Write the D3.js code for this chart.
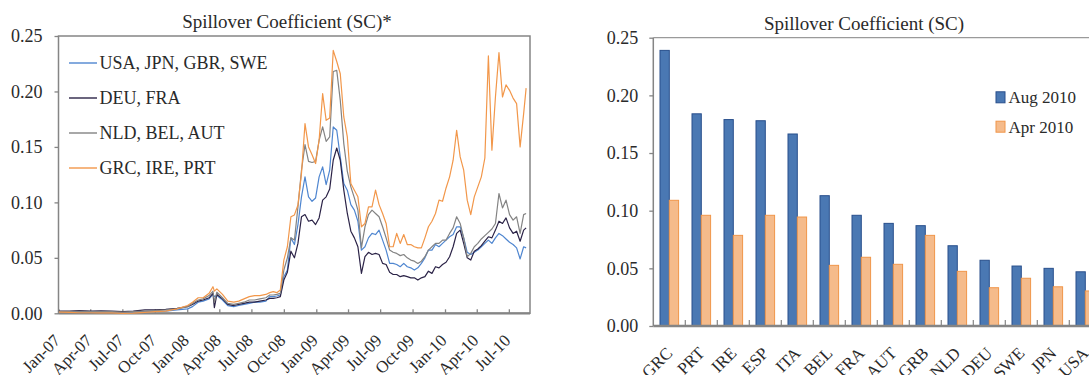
<!DOCTYPE html>
<html><head><meta charset="utf-8">
<script src="https://cdn.jsdelivr.net/npm/d3@7"></script>
<style>
html,body{margin:0;padding:0;background:#fff;}
svg{display:block;font-family:"Liberation Serif","Times New Roman",serif;}
</style></head><body>
<svg id="chart" width="1089" height="375"></svg>
<script>
// ---------- Left panel data ----------
const lineDates = [
"2007-01-02","2007-02-01","2007-03-01","2007-04-02","2007-05-01","2007-06-01","2007-07-02","2007-08-01","2007-09-03","2007-10-01","2007-11-01","2007-12-03",
"2008-01-02","2008-01-16","2008-02-01","2008-02-15","2008-03-03","2008-03-14","2008-03-18","2008-03-25","2008-04-10","2008-04-25","2008-05-12","2008-05-26","2008-06-10","2008-06-25","2008-07-10","2008-07-25","2008-08-11",
"2008-08-22","2008-09-01","2008-09-11","2008-09-21","2008-10-01","2008-10-11","2008-10-21","2008-10-31","2008-11-10","2008-11-20",
"2008-11-30","2008-12-10","2008-12-20","2008-12-30","2009-01-09","2009-01-19","2009-01-29","2009-02-08","2009-02-18","2009-02-28",
"2009-03-10","2009-03-20","2009-03-30","2009-04-09","2009-04-19","2009-04-29","2009-05-09","2009-05-19","2009-05-29","2009-06-08",
"2009-06-18","2009-06-28","2009-07-08","2009-07-18","2009-07-28","2009-08-07","2009-08-17","2009-08-27","2009-09-06","2009-09-16",
"2009-09-26","2009-10-06","2009-10-16","2009-10-26","2009-11-05","2009-11-15","2009-11-25","2009-12-05","2009-12-15","2009-12-25",
"2010-01-04","2010-01-14","2010-01-24","2010-02-03","2010-02-13","2010-02-23","2010-03-05","2010-03-15","2010-03-25","2010-04-04",
"2010-04-14","2010-04-24","2010-05-04","2010-05-14","2010-05-24","2010-06-03","2010-06-13","2010-06-23","2010-07-03","2010-07-13",
"2010-07-23","2010-08-02","2010-08-12","2010-08-19"
];
const usaJpnGbrSwe = [
0.001,0.001,0.0012,0.001,0.0012,0.001,0.0008,0.0012,0.0015,0.0018,0.002,0.003,
0.004,0.006,0.010,0.011,0.013,0.017,0.015,0.016,0.012,0.007,0.006,0.007,0.008,0.009,0.010,0.010,0.011,
0.015,0.015,0.0156,0.0165,0.033,0.039,0.068,0.062,0.080,0.105,
0.123,0.105,0.101,0.104,0.123,0.132,0.116,0.129,0.168,0.165,
0.141,0.117,0.111,0.098,0.093,0.083,0.057,0.060,0.068,0.072,
0.071,0.075,0.066,0.057,0.045,0.045,0.044,0.042,0.045,0.042,
0.041,0.039,0.041,0.045,0.050,0.057,0.057,0.062,0.060,0.063,
0.066,0.069,0.071,0.078,0.078,0.068,0.055,0.053,0.055,0.057,
0.060,0.063,0.066,0.063,0.068,0.072,0.070,0.067,0.064,0.062,
0.059,0.049,0.060,0.059
];
const deuFra = [
0.002,0.002,0.0025,0.002,0.0022,0.002,0.0015,0.002,0.003,0.003,0.0035,0.0045,
0.006,0.008,0.011,0.012,0.014,0.018,0.005,0.017,0.013,0.008,0.007,0.008,0.009,0.010,0.010,0.011,0.012,
0.0135,0.0135,0.014,0.015,0.030,0.037,0.056,0.050,0.063,0.087,
0.089,0.083,0.084,0.080,0.086,0.102,0.105,0.112,0.138,0.149,
0.138,0.111,0.090,0.074,0.068,0.060,0.036,0.051,0.055,0.053,
0.054,0.053,0.045,0.044,0.037,0.035,0.035,0.033,0.034,0.033,
0.032,0.032,0.030,0.032,0.033,0.038,0.036,0.042,0.041,0.044,
0.046,0.051,0.060,0.072,0.075,0.063,0.050,0.048,0.056,0.058,
0.061,0.065,0.069,0.068,0.075,0.083,0.081,0.086,0.077,0.072,
0.074,0.065,0.075,0.077
];
const nldBelAut = [
0.0015,0.0015,0.0018,0.0015,0.0016,0.0015,0.001,0.0015,0.002,0.0025,0.003,0.004,
0.006,0.009,0.012,0.013,0.016,0.020,0.010,0.019,0.014,0.009,0.008,0.009,0.010,0.012,0.012,0.013,0.014,
0.0165,0.0165,0.017,0.018,0.039,0.050,0.068,0.066,0.096,0.129,
0.152,0.137,0.136,0.137,0.156,0.168,0.155,0.159,0.218,0.219,
0.192,0.153,0.128,0.114,0.104,0.093,0.059,0.078,0.089,0.093,
0.090,0.087,0.078,0.068,0.057,0.055,0.054,0.052,0.053,0.050,
0.048,0.047,0.045,0.047,0.051,0.057,0.060,0.063,0.063,0.066,
0.066,0.072,0.077,0.087,0.081,0.068,0.051,0.054,0.060,0.063,
0.067,0.070,0.073,0.076,0.081,0.108,0.095,0.102,0.089,0.084,
0.087,0.072,0.089,0.090
];
const grcIrePrt = [
0.001,0.0008,0.0005,0.0005,0.0004,0.0003,0.0,0.0002,0.0008,0.0015,0.002,0.004,
0.007,0.010,0.014,0.014,0.018,0.024,0.020,0.022,0.017,0.011,0.010,0.011,0.013,0.015,0.016,0.016,0.017,
0.0186,0.0195,0.0186,0.021,0.048,0.060,0.087,0.0887,0.0977,0.126,
0.171,0.150,0.143,0.135,0.156,0.198,0.174,0.176,0.237,0.227,
0.216,0.177,0.159,0.117,0.111,0.105,0.078,0.081,0.096,0.096,
0.111,0.098,0.090,0.081,0.060,0.060,0.072,0.063,0.071,0.062,
0.062,0.060,0.059,0.059,0.068,0.078,0.083,0.090,0.102,0.101,
0.113,0.123,0.138,0.165,0.141,0.129,0.102,0.089,0.105,0.114,
0.123,0.140,0.232,0.147,0.195,0.235,0.195,0.206,0.201,0.194,
0.189,0.150,0.180,0.203
];
const seriesNames = ["USA, JPN, GBR, SWE","DEU, FRA","NLD, BEL, AUT","GRC, IRE, PRT"];
const seriesColors = ["#4f86d0","#2b2347","#838383","#f2974a"];
const xTickDates = ["2007-01-01","2007-04-01","2007-07-01","2007-10-01","2008-01-01","2008-04-01","2008-07-01","2008-10-01","2009-01-01","2009-04-01","2009-07-01","2009-10-01","2010-01-01","2010-04-01","2010-07-01"];
const xTickLabels = ["Jan-07","Apr-07","Jul-07","Oct-07","Jan-08","Apr-08","Jul-08","Oct-08","Jan-09","Apr-09","Jul-09","Oct-09","Jan-10","Apr-10","Jul-10"];
const yTicks = [0,0.05,0.10,0.15,0.20,0.25];

// ---------- Right panel data ----------
const countries = ["GRC","PRT","IRE","ESP","ITA","BEL","FRA","AUT","GRB","NLD","DEU","SWE","JPN","USA"];
const aug2010 = [0.239,0.184,0.179,0.178,0.1665,0.113,0.096,0.089,0.087,0.0696,0.057,0.052,0.050,0.047];
const apr2010 = [0.109,0.096,0.0786,0.096,0.0945,0.0526,0.0596,0.0535,0.0786,0.0474,0.0332,0.0414,0.034,0.0304];
const barSeries = ["Aug 2010","Apr 2010"];
const barFill = ["#4a78b3","#f5bb8b"];
const barStroke = ["#284f8c","#f0964a"];

const svg = d3.select("#chart");
const parse = d3.timeParse("%Y-%m-%d");
const axisGray = "#858585";
const textColor = "#2a2a2a";

// ================= LEFT PANEL =================
const L = {x0:58.5, x1:530, y0:36, y1:313.3};
const x = d3.scaleTime().domain([parse("2007-01-01"), parse("2010-08-30")]).range([L.x0, L.x1]);
const yL = d3.scaleLinear().domain([0,0.25]).range([L.y1, L.y0]);

const gL = svg.append("g");
gL.append("text").attr("x",287).attr("y",27.5).attr("text-anchor","middle")
  .attr("font-size",19).attr("fill",textColor).text("Spillover Coefficient (SC)*");

// y axis
const yAxL = gL.append("g").attr("transform",`translate(${L.x0},0)`)
  .call(d3.axisLeft(yL).tickValues(yTicks).tickSize(4).tickPadding(12).tickFormat(d3.format(".2f")));
yAxL.select(".domain").remove();
yAxL.selectAll("line").attr("stroke",axisGray).attr("stroke-width",1.3);
yAxL.selectAll("text").attr("font-size",18).attr("fill",textColor).attr("font-family","Liberation Serif");

// x axis ticks (inside)
const xAx = gL.append("g").attr("transform",`translate(0,${L.y1})`)
  .call(d3.axisBottom(x).tickValues(xTickDates.map(parse)).tickSizeInner(-4).tickSizeOuter(0).tickFormat((d,i)=>xTickLabels[i]));
xAx.select(".domain").remove();
xAx.selectAll("line").attr("stroke",axisGray).attr("stroke-width",1.3);
xAx.selectAll("text")
  .attr("font-size",17).attr("fill",textColor).attr("font-family","Liberation Serif")
  .attr("x",0).attr("y",0).attr("dy","0.35em").attr("text-anchor","end")
  .attr("transform","translate(-2,24) rotate(-45)");

// frame
gL.append("rect").attr("x",L.x0).attr("y",L.y0).attr("width",L.x1-L.x0).attr("height",L.y1-L.y0)
  .attr("fill","none").attr("stroke",axisGray).attr("stroke-width",1.5);
gL.append("line").attr("x1",L.x0).attr("x2",L.x1).attr("y1",L.y1).attr("y2",L.y1)
  .attr("stroke",axisGray).attr("stroke-width",2.2);

// lines
const dates = lineDates.map(parse);
const allSeries = [usaJpnGbrSwe, deuFra, nldBelAut, grcIrePrt];
const lineGen = d3.line().x((d,i)=>x(dates[i])).y(d=>yL(d));
allSeries.forEach((s,i)=>{
  gL.append("path").datum(s).attr("d",lineGen).attr("fill","none")
    .attr("stroke",seriesColors[i]).attr("stroke-width",1.2).attr("stroke-linejoin","round");
});

// legend
const legY = [63,98,133,168];
seriesNames.forEach((n,i)=>{
  gL.append("line").attr("x1",69).attr("x2",97).attr("y1",legY[i]).attr("y2",legY[i])
    .attr("stroke",seriesColors[i]).attr("stroke-width",1.4);
  gL.append("text").attr("x",99.5).attr("y",legY[i]).attr("dy","0.35em")
    .attr("font-size",18).attr("fill",textColor).text(n);
});

// ================= RIGHT PANEL =================
const R = {x0:653.3, band:32, y0:37.7, y1:326};
const xb = d3.scaleBand().domain(countries).range([R.x0, R.x0 + R.band*countries.length]).padding(0);
const xs = d3.scaleBand().domain(barSeries).range([6.7, 25.3]).padding(0);
const yR = d3.scaleLinear().domain([0,0.25]).range([R.y1, R.y0]);
const gR = svg.append("g");

gR.append("text").attr("x",864).attr("y",29.5).attr("text-anchor","middle")
  .attr("font-size",19).attr("fill",textColor).text("Spillover Coefficient (SC)");

// top border
gR.append("line").attr("x1",R.x0).attr("x2",1089).attr("y1",R.y0).attr("y2",R.y0)
  .attr("stroke","#9a9a9a").attr("stroke-width",1.3);

const yAxR = gR.append("g").attr("transform",`translate(${R.x0},0)`)
  .call(d3.axisLeft(yR).tickValues(yTicks).tickSize(4).tickPadding(11).tickFormat(d3.format(".2f")));
yAxR.select(".domain").remove();
yAxR.selectAll("line").attr("stroke",axisGray).attr("stroke-width",1.3);
yAxR.selectAll("text").attr("font-size",18).attr("fill",textColor).attr("font-family","Liberation Serif");
gR.append("line").attr("x1",R.x0).attr("x2",R.x0).attr("y1",R.y0).attr("y2",R.y1)
  .attr("stroke",axisGray).attr("stroke-width",1.5);

// bars
const barData = countries.map((c,i)=>({c, v:[aug2010[i], apr2010[i]]}));
barData.forEach(d=>{
  barSeries.forEach((s,j)=>{
    const v = d.v[j];
    gR.append("rect").attr("x",xb(d.c)+xs(s)).attr("width",xs.bandwidth())
      .attr("y",yR(v)).attr("height",yR(0)-yR(v))
      .attr("fill",barFill[j]).attr("stroke",barStroke[j]).attr("stroke-width",1);
  });
});

// category ticks (inside, at band edges)
countries.forEach((c,i)=>{
  if(i===0) return;
  gR.append("line").attr("x1",xb(c)).attr("x2",xb(c)).attr("y1",R.y1).attr("y2",R.y1-6)
    .attr("stroke",axisGray).attr("stroke-width",1.2);
});
gR.append("line").attr("x1",R.x0).attr("x2",1089).attr("y1",R.y1).attr("y2",R.y1)
  .attr("stroke",axisGray).attr("stroke-width",2.6);

// category labels
countries.forEach(c=>{
  const cx = xb(c) + xb.bandwidth()/2;
  gR.append("text").attr("transform",`translate(${cx},${R.y1+24}) rotate(-45)`)
    .attr("text-anchor","end").attr("dy","0.35em").attr("font-size",17).attr("fill",textColor).text(c);
});

// legend
const rLegY = [97.3,126.7];
barSeries.forEach((s,j)=>{
  gR.append("rect").attr("x",996).attr("y",rLegY[j]-5.5).attr("width",9).attr("height",11)
    .attr("fill",barFill[j]).attr("stroke",barStroke[j]).attr("stroke-width",1);
  gR.append("text").attr("x",1008.5).attr("y",rLegY[j]).attr("dy","0.35em")
    .attr("font-size",17).attr("fill",textColor).text(s);
});
</script>
</body></html>
